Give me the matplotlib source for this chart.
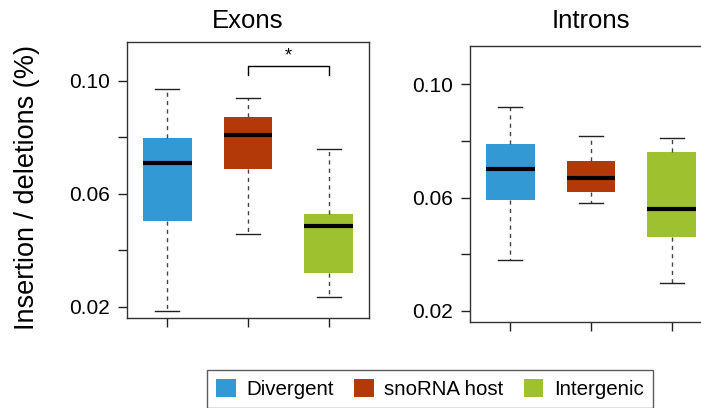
import matplotlib
matplotlib.use("Agg")
import matplotlib.pyplot as plt
from matplotlib.patches import Patch

plt.rcParams['font.family'] = ['Liberation Sans', 'DejaVu Sans']

groups = ['Divergent', 'snoRNA host', 'Intergenic']
colors = ['#3399d4', '#b33a08', '#9dc12f']

# exons: lower whisker, Q1, median, Q3, upper whisker
exon_lo = [0.0186, 0.0459, 0.0237]
exon_q1 = [0.0504, 0.0689, 0.0319]
exon_med = [0.0710, 0.0809, 0.0488]
exon_q3 = [0.0799, 0.0872, 0.0529]
exon_hi = [0.0971, 0.0940, 0.0760]

intron_lo = [0.0379, 0.0581, 0.0299]
intron_q1 = [0.0591, 0.0619, 0.0460]
intron_med = [0.0700, 0.0670, 0.0560]
intron_q3 = [0.0790, 0.0730, 0.0762]
intron_hi = [0.0920, 0.0819, 0.0811]

yticks = [0.02, 0.04, 0.06, 0.08, 0.10]
ylabels = ['0.02', '', '0.06', '', '0.10']

# significance bracket between snoRNA host and intergenic (exons)
sig_pair = (2, 3)
sig_top = 0.1052
sig_drop = 0.1021


def draw(ax, lo, q1, med, q3, hi, title, pad):
    stats = []
    for i in range(3):
        stats.append(dict(whislo=lo[i], q1=q1[i], med=med[i], q3=q3[i],
                          whishi=hi[i], fliers=[]))
    bp = ax.bxp(stats, positions=[1, 2, 3], widths=0.6, patch_artist=True,
                showfliers=False,
                boxprops=dict(linewidth=0),
                whiskerprops=dict(linestyle=(0, (3, 3)), color='#444444', linewidth=1),
                capprops=dict(color='#222222', linewidth=1),
                medianprops=dict(color='black', linewidth=3.0, solid_capstyle='butt'),
                capwidths=0.3)
    for patch, c in zip(bp['boxes'], colors):
        patch.set_facecolor(c)
        patch.set_edgecolor(c)
    ax.set_xlim(0.5, 3.5)
    ax.set_ylim(0.0161, 0.1137)
    ax.set_yticks(yticks)
    ax.set_yticklabels(ylabels)
    ax.set_xticks([1, 2, 3])
    ax.set_xticklabels([])
    ax.tick_params(direction='out', length=6.5, width=1, labelsize=15, pad=6,
                   color='#222222')
    for s in ax.spines.values():
        s.set_color('#333333')
        s.set_linewidth(1)
    ax.set_title(title, fontsize=18.5, pad=pad)


fig = plt.figure(figsize=(7.01, 4.08), dpi=100)
ax1 = fig.add_axes([0.1812, 0.2206, 0.3452, 0.6765])
ax2 = fig.add_axes([0.6705, 0.2115, 0.3452, 0.6765])

draw(ax1, exon_lo, exon_q1, exon_med, exon_q3, exon_hi, 'Exons', 10)
draw(ax2, intron_lo, intron_q1, intron_med, intron_q3, intron_hi, 'Introns', 12.5)

a, b = sig_pair
ax1.plot([a, a, b, b], [sig_drop, sig_top, sig_top, sig_drop], color='black', linewidth=1)
ax1.text((a + b) / 2, sig_top + 0.0006, '*', ha='center', va='bottom', fontsize=13)

fig.text(27 / 701, 1 - 188 / 408, 'Insertion / deletions (%)', rotation=90,
         ha='center', va='center', fontsize=19.5)

handles = [Patch(facecolor=c, edgecolor='none') for c in colors]
leg = fig.legend(handles, groups, loc='upper center',
                 bbox_to_anchor=(430 / 701, 1 - 370 / 408), ncol=3, fontsize=14.8,
                 frameon=True, fancybox=False, edgecolor='#333333',
                 handlelength=0.95, handleheight=0.95, handletextpad=0.5,
                 columnspacing=1.0, borderpad=0.45, borderaxespad=0)
leg.get_frame().set_linewidth(1)

fig.savefig('out.png', dpi=100)
